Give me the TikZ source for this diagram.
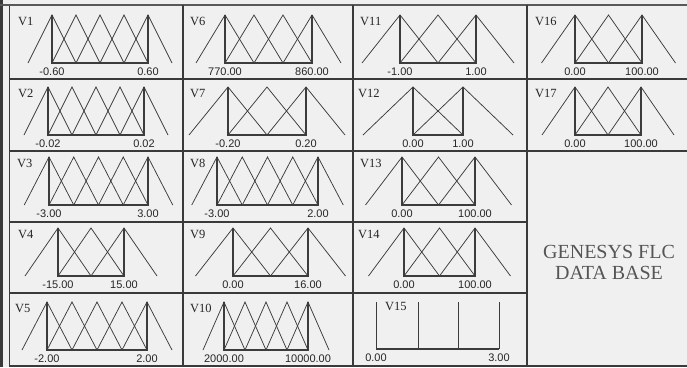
\documentclass[tikz,border=0pt]{standalone}
\usepackage{fontspec}
\setmainfont{Liberation Serif}
\setsansfont{Liberation Sans}
\usetikzlibrary{positioning}
\definecolor{cbg}{HTML}{F0F0F0}
\definecolor{cgrid}{HTML}{3A3A3A}
\definecolor{cline}{HTML}{3C3C3C}
\definecolor{ctext}{HTML}{555555}

\begin{document}
\begin{tikzpicture}[
  x=1pt, y=-1pt,
  grid/.style={draw=cgrid, line width=1.1pt},
  tri/.style={draw=cline, line width=0.75pt},
  rng/.style={draw=cline, line width=1.4pt},
  vname/.style={anchor=west, inner sep=0pt, text=black!85,
                font=\fontsize{12.5}{13}\selectfont},
  tick/.style={inner sep=0pt, text=black!85,
               font=\sffamily\fontsize{11}{12}\selectfont},
  title/.style={align=center, text=ctext,
                font=\fontsize{20}{21}\selectfont},
]
\fill[cbg] (0,0) rectangle (687,367);
\useasboundingbox (0,0) rectangle (687,367);

% frame
\draw[grid, line width=3pt] (1.5,0) -- (1.5,367);
\draw[grid] (9.5,5) -- (9.5,367);
\draw[grid, line width=2pt, draw=black!65] (0,5) -- (687,5);
\draw[grid] (9.5,366) -- (687,366);
% columns
\foreach \cx in {183,353,527}
  \draw[grid] (\cx,5) -- (\cx,366);
% rows
\draw[grid] (9.5,79) -- (687,79);
\draw[grid] (9.5,151) -- (687,151);
\draw[grid] (9.5,222) -- (527,222);
\draw[grid] (9.5,293) -- (527,293);

% membership functions: name / name x / top y / first peak / last peak / peaks / low / high
\foreach \nm/\nx/\yt/\xa/\xb/\np/\lo/\hi in {
  V1/18/15/52/148/5/-0.60/0.60,
  V6/190/15/225/312/4/770.00/860.00,
  V11/360/15/400/476/3/-1.00/1.00,
  V16/535/15/575/642/3/0.00/100.00,
  V2/18/87/48/144/5/-0.02/0.02,
  V7/190/87/228/306/3/-0.20/0.20,
  V12/358/87/413/463/2/0.00/1.00,
  V17/535/87/575/641/3/0.00/100.00,
  V3/17/157/49/148/5/-3.00/3.00,
  V8/190/157/217/318/5/-3.00/2.00,
  V13/360/157/402/475/3/0.00/100.00,
  V4/18/228/58/124/3/-15.00/15.00,
  V9/190/228/233/308/3/0.00/16.00,
  V14/358/228/404/475/3/0.00/100.00,
  V5/15/302/47/147/5/-2.00/2.00,
  V10/190/302/224/308/5/2000.00/10000.00}
{
  \pgfmathsetmacro\dx{(\xb-\xa)/(\np-1)}
  \pgfmathsetmacro\yb{\yt+48}
  \foreach \i in {1,...,\np}{
    \pgfmathsetmacro\xc{\xa+(\i-1)*\dx}
    \draw[tri] (\xc-\dx,\yb) -- (\xc,\yt) -- (\xc+\dx,\yb);
  }
  \draw[rng] (\xa,\yt) -- (\xa,\yb) -- (\xb,\yb) -- (\xb,\yt);
  \node[vname] (\nm) at (\nx,\yt+6) {\nm};
  \node[tick] (\nm-lo) at (\xa,\yb+8.5) {\lo};
  \node[tick] (\nm-hi) at (\xb,\yb+8.5) {\hi};
}

% V15
\foreach \xc in {376,418,458,499}
  \draw[tri] (\xc,302) -- (\xc,349);
\draw[rng] (376,349) -- (499,349);
\node[vname] (V15) at (385,306) {V15};
\node[tick] (V15-lo) at (376,357.5) {0.00};
\node[tick] (V15-hi) at (499,357.5) {3.00};

% data base title
\node[title] (db) at (609,262) {GENESYS FLC\\DATA BASE};
\end{tikzpicture}
\end{document}
